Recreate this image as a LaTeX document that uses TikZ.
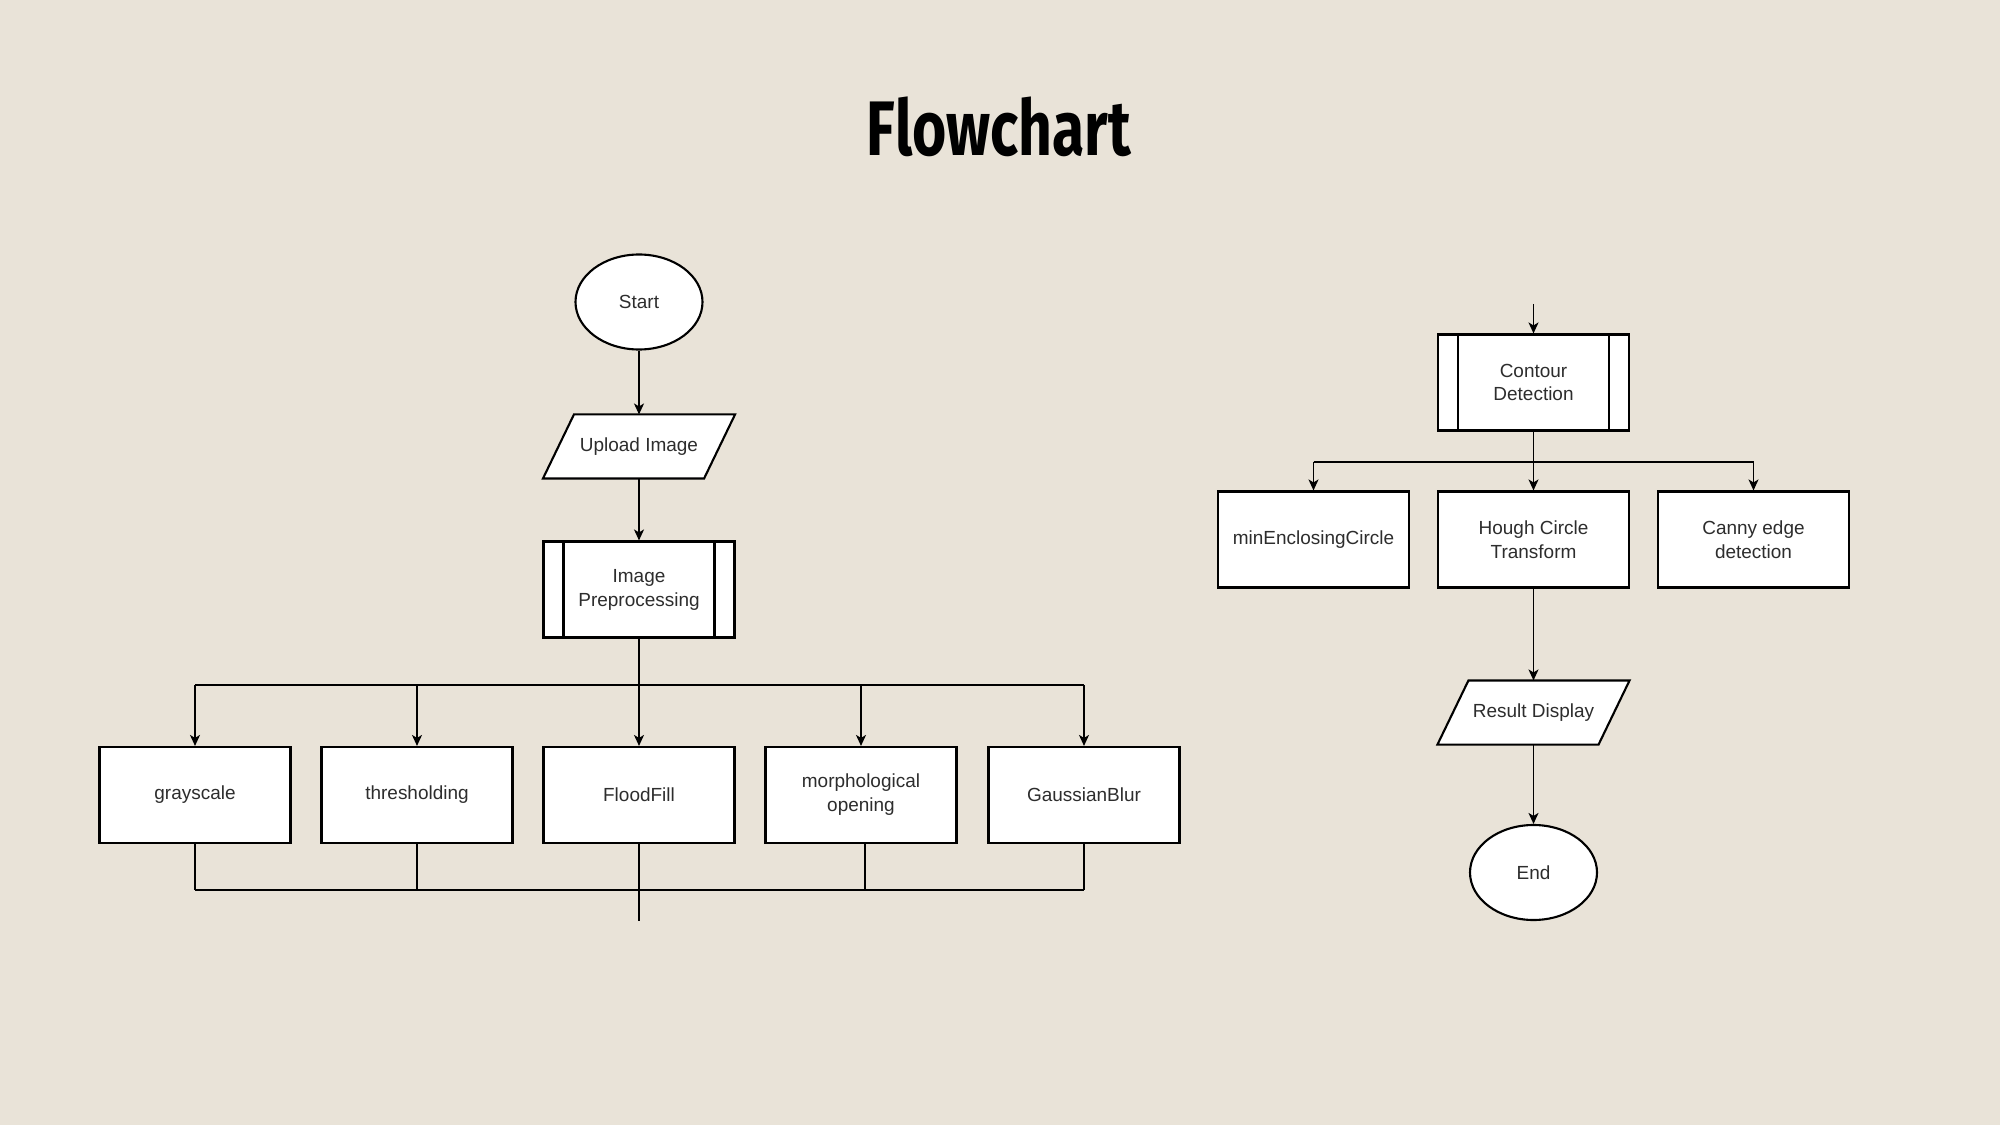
\documentclass[tikz,border=0pt]{standalone}
\usepackage{fontspec}
\setmainfont{Liberation Sans}
\newfontfamily\titlefont{Fira Sans}
\usetikzlibrary{arrows.meta,shapes.geometric,backgrounds}
\definecolor{paper}{RGB}{233,227,216}
\definecolor{ink}{RGB}{45,45,45}
\newcommand{\slantbox}[1]{%
	\begin{pgfonlayer}{background}
		\filldraw[draw = black, fill = white, line width = 0.6pt] ([xshift = -0.155cm]#1.south west) -- ([xshift = 0.155cm]#1.north west) -- ([xshift = 0.155cm]#1.north east) -- ([xshift = -0.155cm]#1.south east) -- cycle;
	\end{pgfonlayer}}

\begin{document}
\begin{tikzpicture}
	[
	base/.style={draw = black, fill = white, line width = 0.6pt, text = ink, align = center, inner sep = 1pt, font = \fontsize{5.4}{6.8}\selectfont},
	box/.style={base, shape = rectangle, minimum width = 1.91cm, minimum height = 0.96cm},
	sub/.style={box, path picture={
		\draw[line width = 0.6pt] ([xshift = 0.2cm]path picture bounding box.north west) -- ([xshift = 0.2cm]path picture bounding box.south west);
		\draw[line width = 0.6pt] ([xshift = -0.2cm]path picture bounding box.north east) -- ([xshift = -0.2cm]path picture bounding box.south east);}},
	term/.style={base, shape = ellipse, minimum width = 1.27cm, minimum height = 0.95cm, inner sep = 0pt},
	io/.style={base, draw = none, fill = none, shape = rectangle, minimum width = 1.59cm, minimum height = 0.62cm},
	line/.style={draw = black, line width = 0.5pt},
	arr/.style={line, -{Stealth[length = 1.1mm, width = 1mm, inset = 0.3mm]}}
	]
	
	\begin{pgfonlayer}{background}
		\fill[paper] (0,0) rectangle (20,11.25);
	\end{pgfonlayer}
	\useasboundingbox (0,0) rectangle (20,11.25);
	
	\node[font = \titlefont\bfseries\fontsize{22}{26}\selectfont, anchor = base](title) at (9.99, 9.69){\scalebox{0.76}[1]{Flowchart}};
	
	\node[term](start) at (6.39, 8.23){Start};
	\node[io](upload) at (6.39, 6.785){Upload Image};
	\slantbox{upload}
	\node[sub](prep) at (6.39, 5.355){Image\\Preprocessing};
	
	\node[box](gray) at (1.95, 3.30){grayscale};
	\node[box](thresh) at (4.17, 3.30){thresholding};
	\node[box](flood) at (6.39, 3.30){FloodFill};
	\node[box](morph) at (8.61, 3.30){morphological\\opening};
	\node[box](blur) at (10.84, 3.30){GaussianBlur};
	
	\coordinate(split) at (6.39, 4.40);
	\coordinate(merge) at (6.39, 2.35);
	\coordinate(loose) at (6.39, 2.04);
	
	\draw[arr](start) -- (upload);
	\draw[arr](upload) -- (prep);
	\draw[line](prep) -- (split);
	\draw[line](gray.north |- split) -- (blur.north |- split);
	\foreach \n in {gray, thresh, flood, morph, blur}
		\draw[arr](\n.north |- split) -- (\n.north);
	
	\foreach \n in {gray, thresh, blur}
		\draw[line](\n.south) -- (\n.south |- merge);
	\draw[line]([xshift = 0.04cm]morph.south) -- ([xshift = 0.04cm]morph.south |- merge);
	\draw[line, line width = 0.8pt](gray.south |- merge) -- (blur.south |- merge);
	\draw[line](flood.south) -- (loose);
	
	\node[sub](contour) at (15.335, 7.425){Contour\\Detection};
	\node[box](minenc) at (13.135, 5.855){minEnclosingCircle};
	\node[box](hough) at (15.335, 5.855){Hough Circle\\Transform};
	\node[box](canny) at (17.535, 5.855){Canny edge\\detection};
	\node[io](result) at (15.335, 4.125){Result Display};
	\slantbox{result}
	\node[term](end) at (15.335, 2.525){End};
	
	\coordinate(entry) at (15.335, 8.21);
	\coordinate(fork) at (15.335, 6.63);
	
	\draw[arr](entry) -- (contour);
	\draw[arr](contour) -- (hough);
	\draw[line](minenc.north |- fork) -- (canny.north |- fork);
	\draw[arr](minenc.north |- fork) -- (minenc.north);
	\draw[arr](canny.north |- fork) -- (canny.north);
	\draw[arr](hough) -- (result);
	\draw[arr](result) -- (end);
\end{tikzpicture}
\end{document}
